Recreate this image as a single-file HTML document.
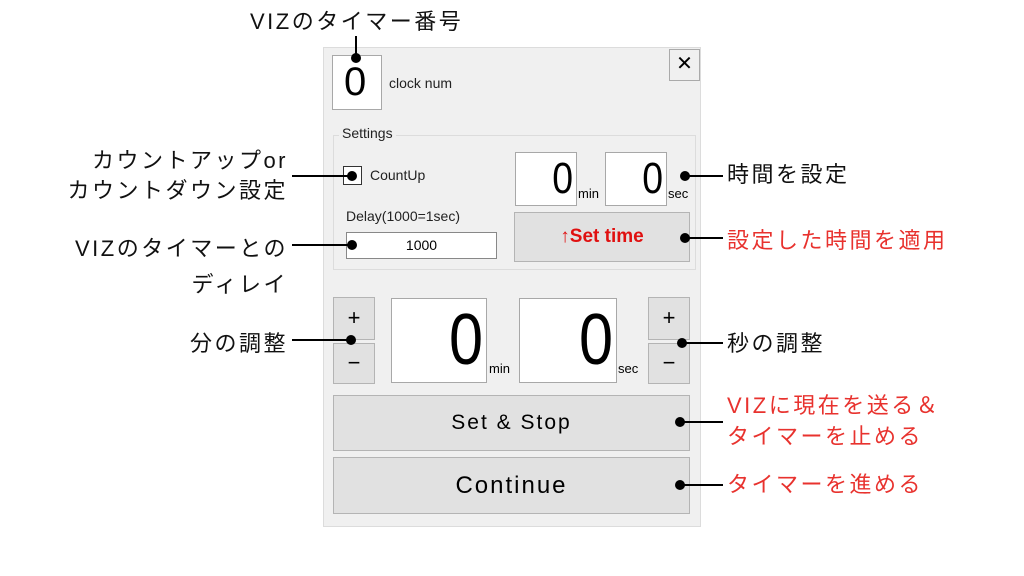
<!DOCTYPE html>
<html><head><meta charset="utf-8"><style>
*{margin:0;padding:0;box-sizing:border-box}
body{width:1024px;height:576px;background:#fff;position:relative;overflow:hidden;font-family:"Liberation Sans","Noto Sans CJK JP",sans-serif}
.a{position:absolute;white-space:nowrap}
.t{font-size:22px;color:#111;line-height:30px;letter-spacing:2.5px}
.r{color:#e8322e}
.b{position:absolute;border:1px solid #a8a8a8;background:#fff}
.g{position:absolute;border:1px solid #b4b4b4;background:#e1e1e1}
.s{font-size:14px;color:#222}
.d{position:absolute;width:10px;height:10px;border-radius:50%;background:#000}
.l{position:absolute;height:2px;background:#000}
.v{position:absolute;width:2px;background:#000}
.big{position:absolute;text-align:right;color:#000;transform-origin:right center}
</style></head><body>
<div class="a" style="left:323px;top:47px;width:378px;height:480px;background:#f0f0f0;border:1px solid #dcdcdc"></div>
<div class="b" style="left:332px;top:55px;width:50px;height:55px"></div>
<div class="a" style="left:344px;top:58px;font-size:40px;line-height:48px">0</div>
<div class="a s" style="left:389px;top:75px">clock num</div>
<div class="g" style="left:669px;top:49px;width:31px;height:32px;background:#f0f0f0;border-color:#aaa;text-align:center;font-size:20px;line-height:29px">✕</div>
<div class="a" style="left:333px;top:135px;width:363px;height:135px;border:1px solid #dcdcdc"></div>
<div class="a s" style="left:339px;top:125px;background:#f0f0f0;padding:0 3px">Settings</div>
<div class="b" style="left:343px;top:166px;width:19px;height:19px;border-color:#333"></div>
<div class="a s" style="left:370px;top:167px">CountUp</div>
<div class="b" style="left:515px;top:152px;width:62px;height:54px"></div>
<div class="big" style="left:515px;top:152px;width:58px;font-size:44px;line-height:54px;transform:scaleX(0.85)">0</div>
<div class="a" style="left:578px;top:186px;font-size:13px">min</div>
<div class="b" style="left:605px;top:152px;width:62px;height:54px"></div>
<div class="big" style="left:605px;top:152px;width:58px;font-size:44px;line-height:54px;transform:scaleX(0.85)">0</div>
<div class="a" style="left:668px;top:186px;font-size:13px">sec</div>
<div class="a s" style="left:346px;top:208px">Delay(1000=1sec)</div>
<div class="b" style="left:346px;top:232px;width:151px;height:27px;border-color:#888;text-align:center;font-size:14px;line-height:25px">1000</div>
<div class="g" style="left:514px;top:212px;width:176px;height:50px;text-align:center;line-height:48px;color:#e01010;font-weight:bold;font-size:19px">↑Set time</div>
<div class="g" style="left:333px;top:297px;width:42px;height:43px;text-align:center;font-size:22px;line-height:40px">+</div>
<div class="g" style="left:333px;top:343px;width:42px;height:41px;text-align:center;font-size:22px;line-height:38px">−</div>
<div class="b" style="left:391px;top:298px;width:96px;height:85px"></div>
<div class="big" style="left:391px;top:298px;width:92px;font-size:72px;line-height:85px;transform:scaleX(0.85)">0</div>
<div class="a" style="left:489px;top:361px;font-size:13px">min</div>
<div class="b" style="left:519px;top:298px;width:98px;height:85px"></div>
<div class="big" style="left:519px;top:298px;width:94px;font-size:72px;line-height:85px;transform:scaleX(0.85)">0</div>
<div class="a" style="left:618px;top:361px;font-size:13px">sec</div>
<div class="g" style="left:648px;top:297px;width:42px;height:43px;text-align:center;font-size:22px;line-height:40px">+</div>
<div class="g" style="left:648px;top:343px;width:42px;height:41px;text-align:center;font-size:22px;line-height:38px">−</div>
<div class="g" style="left:333px;top:395px;width:357px;height:56px;text-align:center;line-height:54px;font-size:21px;letter-spacing:2px">Set &amp; Stop</div>
<div class="g" style="left:333px;top:457px;width:357px;height:57px;text-align:center;line-height:55px;font-size:24px;letter-spacing:2px">Continue</div>

<!-- annotations -->
<div class="a t" style="left:250px;top:7px">VIZのタイマー番号</div>
<div class="v" style="left:355px;top:36px;height:22px"></div><div class="d" style="left:351px;top:53px"></div>
<div class="a t" style="right:736px;top:146px;text-align:right">カウントアップor<br>カウントダウン設定</div>
<div class="l" style="left:292px;top:175px;width:60px"></div><div class="d" style="left:347px;top:171px"></div>
<div class="a t" style="right:736px;top:231px;text-align:right;line-height:36px">VIZのタイマーとの<br>ディレイ</div>
<div class="l" style="left:292px;top:244px;width:60px"></div><div class="d" style="left:347px;top:240px"></div>
<div class="a t" style="right:736px;top:329px">分の調整</div>
<div class="l" style="left:292px;top:339px;width:60px"></div><div class="d" style="left:346px;top:335px"></div>
<div class="d" style="left:680px;top:171px"></div><div class="l" style="left:685px;top:175px;width:38px"></div>
<div class="a t" style="left:727px;top:160px">時間を設定</div>
<div class="d" style="left:680px;top:233px"></div><div class="l" style="left:685px;top:237px;width:38px"></div>
<div class="a t r" style="left:727px;top:226px">設定した時間を適用</div>
<div class="d" style="left:677px;top:338px"></div><div class="l" style="left:682px;top:342px;width:41px"></div>
<div class="a t" style="left:727px;top:329px">秒の調整</div>
<div class="d" style="left:675px;top:417px"></div><div class="l" style="left:680px;top:421px;width:43px"></div>
<div class="a t r" style="left:727px;top:390px;line-height:31px">VIZに現在を送る＆<br>タイマーを止める</div>
<div class="d" style="left:675px;top:480px"></div><div class="l" style="left:680px;top:484px;width:43px"></div>
<div class="a t r" style="left:727px;top:470px">タイマーを進める</div>
</body></html>
